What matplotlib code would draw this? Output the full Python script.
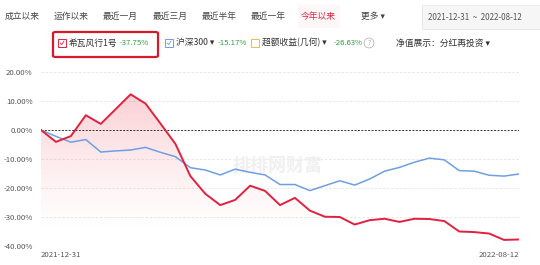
import numpy as np
import pandas as pd
import matplotlib
matplotlib.use("Agg")
import matplotlib.pyplot as plt
from matplotlib.patches import Rectangle, FancyBboxPatch
from matplotlib.lines import Line2D

plt.rcParams['font.family'] = ['Noto Sans CJK SC', 'DejaVu Sans']

# weekly NAV change (%), 2021-12-31 .. 2022-08-12
dates = pd.date_range("2021-12-31", "2022-08-12", freq="W-FRI")
fund = [0, -4.1, -2.1, 5.1, 2.1, 7.2, 12.3, 9.1, 2.2, -4.8, -15.9, -22.0, -25.9,
        -24.1, -19.2, -21.0, -25.9, -23.4, -27.8, -29.9, -30.0, -32.6, -31.1,
        -30.6, -31.7, -30.6, -30.7, -31.4, -35.0, -35.2, -35.7, -37.9, -37.75]
hs300 = [0, -2.2, -4.2, -3.3, -7.6, -7.2, -6.9, -6.0, -7.7, -9.2, -13.0, -13.8,
         -15.5, -13.5, -14.6, -15.5, -18.8, -18.8, -20.9, -19.2, -17.5, -19.0,
         -16.9, -14.2, -12.9, -11.1, -9.7, -10.3, -14.0, -14.2, -15.6, -15.9, -15.17]
yticks = [20, 10, 0, -10, -20, -30, -40]
tabs = ["成立以来", "运作以来", "最近一月", "最近三月", "最近半年", "最近一年", "今年以来", "更多 ▾"]
tab_x = [22, 71, 120, 170, 219, 268, 318, 373]

W, H = 540, 265
fig = plt.figure(figsize=(W / 100, H / 100), dpi=100)


def fx(x):
    return x / W


def fy(y):
    return 1 - y / H


red = "#e0213f"
blue = "#6e9fe3"
green = "#2e9e3e"
gray = "#555555"

# ---- header tabs
for t, x in zip(tabs, tab_x):
    c = red if t == "今年以来" else "#444444"
    fig.text(fx(x), fy(16), t, ha="center", va="center", fontsize=6.3, color=c)
fig.patches.append(Rectangle((fx(298), fy(28)), fx(42), 23 / H, transform=fig.transFigure,
                             facecolor="#fef7f7", edgecolor="none", zorder=-1))
fig.patches.append(Rectangle((fx(422), fy(29)), fx(120), 24 / H, transform=fig.transFigure,
                             facecolor="#f6f6f6", edgecolor="#e6e6e6", lw=0.6, zorder=-1))
fig.text(fx(475), fy(17), "2021-12-31  ~  2022-08-12", ha="center", va="center",
         fontsize=5.8, color=gray)

# ---- legend row
fig.patches.append(FancyBboxPatch((fx(53), fy(57)), fx(105), 25 / H, transform=fig.transFigure,
                                  boxstyle="round,pad=0,rounding_size=0.005",
                                  facecolor="none", edgecolor="#d9182b", lw=1.6))


def checkbox(x, color, checked=True):
    fig.patches.append(Rectangle((fx(x), fy(47)), 8 / W, 8 / H, transform=fig.transFigure,
                                 facecolor="white", edgecolor=color, lw=0.7))
    if checked:
        fig.lines.append(Line2D([fx(x + 2.2), fx(x + 3.7), fx(x + 6)],
                                [fy(43), fy(44.6), fy(41)], transform=fig.transFigure,
                                color=color, lw=0.6))


checkbox(58, red)
fig.text(fx(69), fy(43), "希瓦风行1号", ha="left", va="center", fontsize=6.3, color="#333333")
fig.text(fx(120), fy(43), "-37.75%", ha="left", va="center", fontsize=5.6, color=green)
checkbox(165, blue)
fig.text(fx(176), fy(43), "沪深300 ▾", ha="left", va="center", fontsize=6.3, color="#333333")
fig.text(fx(218), fy(43), "-15.17%", ha="left", va="center", fontsize=5.6, color=green)
checkbox(251, "#f0b94a", checked=False)
fig.text(fx(262), fy(43), "超额收益(几何) ▾", ha="left", va="center", fontsize=6.3, color="#333333")
fig.text(fx(334), fy(43), "-26.63%", ha="left", va="center", fontsize=5.6, color=green)
fig.text(fx(369), fy(43), "?", ha="center", va="center", fontsize=4.5, color="#aaaaaa",
         bbox=dict(boxstyle="circle,pad=0.15", facecolor="none", edgecolor="#aaaaaa", lw=0.5))
fig.text(fx(396), fy(43), "净值展示：分红再投资 ▾", ha="left", va="center", fontsize=6.3,
         color="#333333")

# ---- chart
ax = fig.add_axes([fx(41), fy(246), fx(519) - fx(41), (246 - 72) / H])
ax.set_xlim(dates[0], dates[-1])
ax.set_ylim(-40, 20)
for s in ax.spines.values():
    s.set_visible(False)
ax.set_xticks([])
ax.set_yticks(yticks)
ax.set_yticklabels([f"{v:.2f}%" for v in yticks], fontsize=5.6, color=gray)
ax.tick_params(axis="y", length=0, pad=6)
for v in yticks:
    if v == 0:
        ax.axhline(0, color="#333333", lw=0.7, ls=(0, (2, 1.5)), zorder=2)
    else:
        ax.axhline(v, color="#e4e4e4", lw=0.6, ls=(0, (3, 2)), zorder=0)

# gradient fill under the fund line
poly = ax.fill_between(dates, fund, -40, color="none", lw=0)
grad = np.zeros((256, 1, 4))
grad[:, 0, :3] = matplotlib.colors.to_rgb("#f26a78")
yy = np.linspace(1, 0, 256)
grad[:, 0, 3] = np.clip((yy - 0.08) / 0.92, 0, 1) ** 1.3 * 0.32
xn = matplotlib.dates.date2num(dates)
im = ax.imshow(grad, aspect="auto", extent=[xn[0], xn[-1], -40, 12.5], zorder=1)
im.set_clip_path(poly.get_paths()[0], transform=ax.transData)
ax.set_ylim(-40, 20)

ax.plot(dates, hs300, color=blue, lw=1.1, zorder=3)
ax.plot(dates, fund, color=red, lw=1.4, zorder=4)

ax.text(0.0, -0.03, "2021-12-31", transform=ax.transAxes, ha="left", va="top",
        fontsize=5.6, color=gray)
ax.text(1.0, -0.03, "2022-08-12", transform=ax.transAxes, ha="right", va="top",
        fontsize=5.6, color=gray)
ax.text(0.494, 0.465, "排排网财富", transform=ax.transAxes, ha="center", va="center",
        fontsize=13, color="#f0f0f0", fontweight="bold", zorder=0.5)

fig.savefig("out.png", dpi=100)
